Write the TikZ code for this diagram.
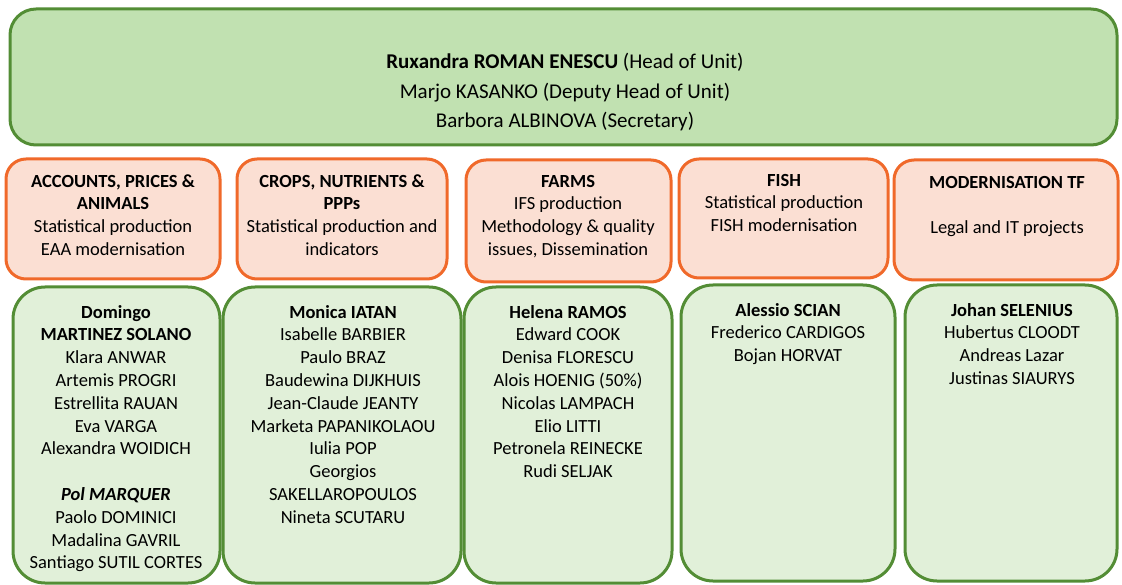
\documentclass[tikz,border=0pt]{standalone}
\usepackage{fontspec}
\setmainfont{Carlito}
\definecolor{topfill}{HTML}{C1E1B1}
\definecolor{gborder}{HTML}{538D35}
\definecolor{ofill}{HTML}{FBDFD3}
\definecolor{oborder}{HTML}{F0692A}
\definecolor{gfill}{HTML}{E1F0D9}
\begin{document}
\begin{tikzpicture}[x=1pt,y=-1pt,
  headbox/.style={draw=gborder, fill=topfill, line width=3pt, rounded corners=26pt},
  teambox/.style={draw=oborder, fill=ofill, line width=3pt, rounded corners=20pt},
  staffbox/.style={draw=gborder, fill=gfill, line width=3pt, rounded corners=32pt},
  txt/.style={align=center, inner sep=0pt, anchor=north, font=\fontsize{18.5}{22.8}\selectfont},
  headtxt/.style={align=center, inner sep=0pt, anchor=north, font=\fontsize{21}{29.5}\selectfont},
]
\useasboundingbox (0,0) rectangle (1122,585);
% head
\path[headbox] (10,9) rectangle (1117,145);
\node[headtxt] (head) at (565,48) {\strut\textbf{Ruxandra ROMAN ENESCU} (Head of Unit)\\Marjo KASANKO (Deputy Head of Unit)\\Barbora ALBINOVA (Secretary)};
% teams
\path[teambox] (6,159) rectangle (220,279);
\path[teambox] (237,159) rectangle (447,279);
\path[teambox] (466,160) rectangle (671,282);
\path[teambox] (679,159) rectangle (888,278);
\path[teambox] (894,160) rectangle (1118,280);
\node[txt] (t1) at (113,171) {\strut\textbf{ACCOUNTS, PRICES \&}\\\textbf{ANIMALS}\\Statistical production\\EAA modernisation};
\node[txt] (t2) at (342,171) {\strut\textbf{CROPS, NUTRIENTS \&}\\\textbf{PPPs}\\Statistical production and\\indicators};
\node[txt] (t3) at (568,171) {\strut\textbf{FARMS}\\IFS production\\Methodology \& quality\\issues, Dissemination};
\node[txt] (t4) at (784,170) {\strut\textbf{FISH}\\Statistical production\\FISH modernisation};
\node[txt] (t5) at (1007,172) {\strut\textbf{MODERNISATION TF}\\\mbox{}\\Legal and IT projects};
% staff
\path[staffbox] (13,287) rectangle (220,583);
\path[staffbox] (223,287) rectangle (461,583);
\path[staffbox] (464,287) rectangle (672,583);
\path[staffbox] (681,285) rectangle (895,581);
\path[staffbox] (905,285) rectangle (1117,581);
\node[txt] (s1) at (116,302) {\strut\textbf{Domingo}\\\textbf{MARTINEZ SOLANO}\\Klara ANWAR\\Artemis PROGRI\\Estrellita RAUAN\\Eva VARGA\\Alexandra WOIDICH\\\mbox{}\\\textbf{\textit{Pol MARQUER}}\\Paolo DOMINICI\\Madalina GAVRIL\\Santiago SUTIL CORTES};
\node[txt] (s2) at (343,302) {\strut\textbf{Monica IATAN}\\Isabelle BARBIER\\Paulo BRAZ\\Baudewina DIJKHUIS\\Jean-Claude JEANTY\\Marketa PAPANIKOLAOU\\Iulia POP\\Georgios\\SAKELLAROPOULOS\\Nineta SCUTARU};
\node[txt] (s3) at (568,302) {\strut\textbf{Helena RAMOS}\\Edward COOK\\Denisa FLORESCU\\Alois HOENIG (50\%)\\Nicolas LAMPACH\\Elio LITTI\\Petronela REINECKE\\Rudi SELJAK};
\node[txt] (s4) at (788,300) {\strut\textbf{Alessio SCIAN}\\Frederico CARDIGOS\\Bojan HORVAT};
\node[txt] (s5) at (1012,300) {\strut\textbf{Johan SELENIUS}\\Hubertus CLOODT\\Andreas Lazar\\Justinas SIAURYS};
\end{tikzpicture}
\end{document}
